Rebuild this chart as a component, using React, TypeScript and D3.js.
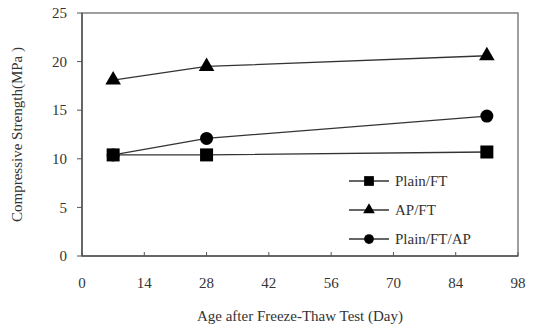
import * as d3 from "d3";

const days = [7, 28, 91];
const plainFT = [10.4, 10.4, 10.7];
const apFT = [18.1, 19.5, 20.6];
const plainFTAP = [10.4, 12.1, 14.4];
const xTicks = [0, 14, 28, 42, 56, 70, 84, 98];
const yTicks = [0, 5, 10, 15, 20, 25];

const seriesList = [
  { name: "Plain/FT", values: plainFT, shape: "square" },
  { name: "AP/FT", values: apFT, shape: "triangle" },
  { name: "Plain/FT/AP", values: plainFTAP, shape: "circle" },
];

const W = 538;
const H = 329;
const margin = { top: 13, right: 20, bottom: 73, left: 82 };
const font = "'Liberation Serif', 'Times New Roman', serif";

function Marker({ shape, x, y, s = 1 }: { shape: string; x: number; y: number; s?: number }) {
  if (shape === "square") return <rect x={x - 6.5 * s} y={y - 6.5 * s} width={13 * s} height={13 * s} fill="#000" />;
  if (shape === "triangle") {
    const sym = d3.symbol(d3.symbolTriangle, 105 * s * s)();
    return <path d={sym ?? ""} transform={`translate(${x},${y})`} fill="#000" />;
  }
  return <circle cx={x} cy={y} r={6.5 * s} fill="#000" />;
}

export default function App() {
  const x = d3.scaleLinear().domain([0, 98]).range([margin.left, W - margin.right]);
  const y = d3.scaleLinear().domain([0, 25]).range([H - margin.bottom, margin.top]);
  const line = d3.line<[number, number]>().x(d => x(d[0])).y(d => y(d[1]));
  const [x0, x1] = x.range();
  const [y0, y1] = y.range();

  return (
    <svg width={W} height={H} style={{ position: "absolute", left: 0, top: 0, background: "#fff" }}>
      <rect x={x0} y={y1} width={x1 - x0} height={y0 - y1} fill="none" stroke="#808080" strokeWidth={1.5} />
      <line x1={x0} x2={x1} y1={y0} y2={y0} stroke="#555" strokeWidth={1.5} />
      <line x1={x0} x2={x0} y1={y0} y2={y1} stroke="#555" strokeWidth={1.5} />
      {yTicks.map(t => (
        <g key={"y" + t}>
          <line x1={x0 - 5} x2={x0} y1={y(t)} y2={y(t)} stroke="#555" />
          <text x={x0 - 15} y={y(t)} dy="0.35em" textAnchor="end" fontFamily={font} fontSize={15} fill="#333">{t}</text>
        </g>
      ))}
      {xTicks.map(t => (
        <g key={"x" + t}>
          <line x1={x(t)} x2={x(t)} y1={y0} y2={y0 - 4} stroke="#555" />
          <text x={x(t)} y={y0 + 32} textAnchor="middle" fontFamily={font} fontSize={15} fill="#333">{t}</text>
        </g>
      ))}
      <text x={(x0 + x1) / 2} y={H - 8} textAnchor="middle" fontFamily={font} fontSize={15} fill="#333">
        Age after Freeze-Thaw Test (Day)
      </text>
      <text transform={`translate(22,${(y0 + y1) / 2}) rotate(-90)`} textAnchor="middle" fontFamily={font} fontSize={15} fill="#333">
        Compressive Strength(MPa )
      </text>
      {seriesList.map(s => {
        const pts = days.map((d, i) => [d, s.values[i]] as [number, number]);
        return (
          <g key={s.name}>
            <path d={line(pts) ?? ""} fill="none" stroke="#333" strokeWidth={1.3} />
            {pts.map((p, i) => <Marker key={i} shape={s.shape} x={x(p[0])} y={y(p[1])} />)}
          </g>
        );
      })}
      {seriesList.map((s, i) => {
        const ly = 181 + i * 29;
        return (
          <g key={"l" + s.name}>
            <line x1={349} x2={389} y1={ly} y2={ly} stroke="#333" strokeWidth={1.3} />
            <Marker shape={s.shape} x={369} y={ly} s={0.75} />
            <text x={395} y={ly} dy="0.35em" fontFamily={font} fontSize={15} fill="#333">{s.name}</text>
          </g>
        );
      })}
    </svg>
  );
}
